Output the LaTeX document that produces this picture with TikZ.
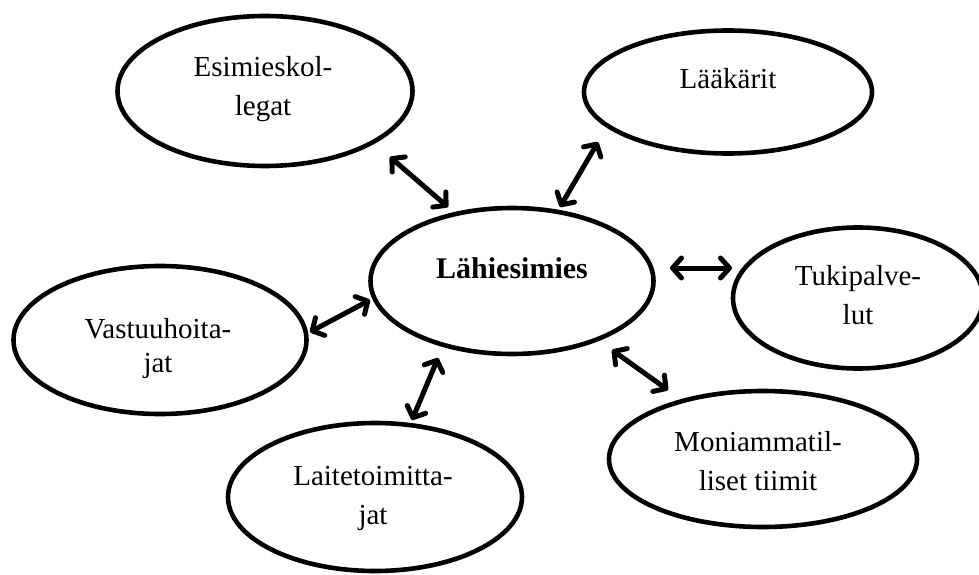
\documentclass[tikz,border=0pt]{standalone}
\usepackage{fontspec}
\setmainfont{Liberation Serif}
\usetikzlibrary{arrows.meta,shapes.geometric}
\begin{document}
\begin{tikzpicture}[x=1pt,y=-1pt]
\tikzset{
  oval/.style={ellipse, draw=black, line width=4.6pt, fill=white, inner sep=0pt},
  lbl/.style={font=\fontsize{29}{39}\selectfont, align=center, inner sep=0pt},
  dbl/.style={line width=5pt, line cap=round,
    arrows={Straight Barb[length=9pt,width=20pt,line cap=round,line join=round]-Straight Barb[length=9pt,width=20pt,line cap=round,line join=round]}}
}
\useasboundingbox (0,0) rectangle (979,575);
\fill[white] (0,0) rectangle (979,575);

% ellipses
\node[oval, minimum width=295pt, minimum height=150pt] (esim) at (265,91) {};
\node[oval, minimum width=288pt, minimum height=123pt] (laak) at (728,92) {};
\node[oval, minimum width=283pt, minimum height=146pt] (lahi) at (512,281) {};
\node[oval, minimum width=250pt, minimum height=141pt] (tuki) at (858,298) {};
\node[oval, minimum width=293pt, minimum height=148pt] (vast) at (160,340) {};
\node[oval, minimum width=294pt, minimum height=148pt] (laite) at (375,497) {};
\node[oval, minimum width=308pt, minimum height=136pt] (moni) at (763,459) {};

% labels
\node[lbl] (tesim) at (263,88) {Esimieskol-\strut\\legat\strut};
\node[lbl, anchor=base] (tlaak) at (728,89) {Lääkärit};
\node[lbl, anchor=base, font=\fontsize{30}{39}\selectfont\bfseries] (tlahi) at (512,278) {Lähiesimies};
\node[lbl] (ttuki) at (858,297) {Tukipalve-\strut\\lut\strut};
\node[lbl, font=\fontsize{29}{34}\selectfont] (tvast) at (158,349) {Vastuuhoita-\strut\\jat\strut};
\node[lbl] (tlaite) at (373,497) {Laitetoimitta-\strut\\jat\strut};
\node[lbl] (tmoni) at (758,463) {Moniammatil-\strut\\liset tiimit\strut};

% arrow end points
\coordinate (a1) at (390,157); \coordinate (b1) at (448,207);
\coordinate (a2) at (598,142); \coordinate (b2) at (560,207);
\coordinate (a3) at (670,268); \coordinate (b3) at (732,268);
\coordinate (a4) at (310,332); \coordinate (b4) at (370,300);
\coordinate (a5) at (438,358); \coordinate (b5) at (412,420);
\coordinate (a6) at (612,350); \coordinate (b6) at (668,390);

\draw[dbl] (a1) -- (b1);
\draw[dbl] (a2) -- (b2);
\draw[dbl] (a3) -- (b3);
\draw[dbl] (a4) -- (b4);
\draw[dbl] (a5) -- (b5);
\draw[dbl] (a6) -- (b6);
\end{tikzpicture}
\end{document}
